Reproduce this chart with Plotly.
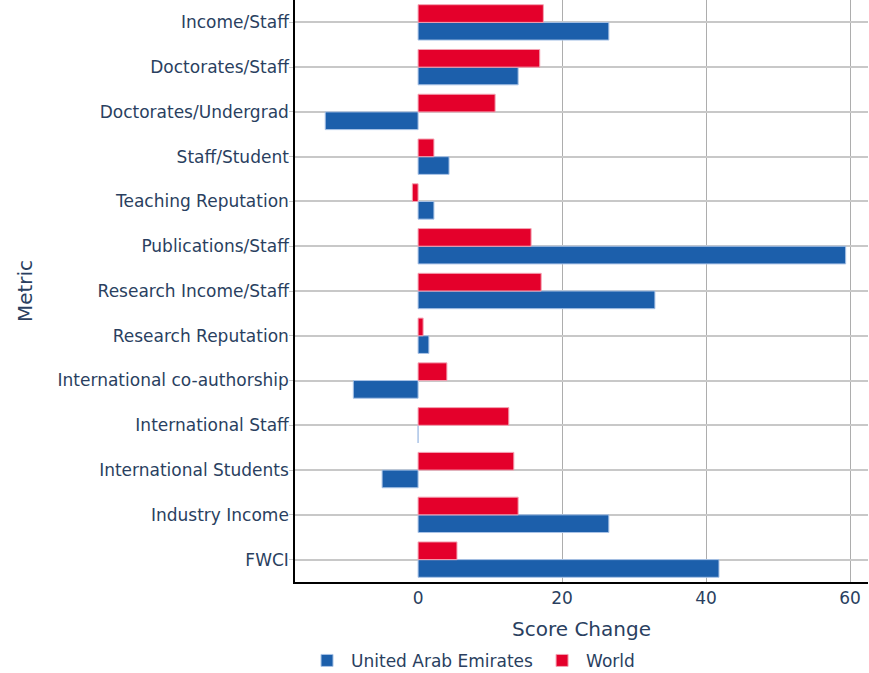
import plotly.graph_objects as go

# categories listed bottom to top (plotly draws first category at bottom)
metrics = [
    "FWCI",
    "Industry Income",
    "International Students",
    "International Staff",
    "International co-authorship",
    "Research Reputation",
    "Research Income/Staff",
    "Publications/Staff",
    "Teaching Reputation",
    "Staff/Student",
    "Doctorates/Undergrad",
    "Doctorates/Staff",
    "Income/Staff",
]
uae_change = [41.8, 26.5, -5.0, 0.0, -9.0, 1.5, 32.9, 59.4, 2.2, 4.3, -12.9, 13.9, 26.5]
world_change = [5.4, 13.9, 13.3, 12.6, 4.0, 0.7, 17.1, 15.7, -0.8, 2.2, 10.7, 16.9, 17.4]

fig = go.Figure()
fig.add_trace(go.Bar(
    y=metrics, x=uae_change, orientation="h", name="United Arab Emirates",
    marker=dict(color="#1c5fab", line=dict(color="#a9c3e6", width=1)),
))
fig.add_trace(go.Bar(
    y=metrics, x=world_change, orientation="h", name="World",
    marker=dict(color="#e4002b", line=dict(color="#f3a3b3", width=1)),
))

fig.update_layout(
    width=869, height=673,
    template="plotly_white",
    barmode="group",
    bargap=0.21,
    bargroupgap=0,
    paper_bgcolor="white",
    plot_bgcolor="white",
    font=dict(family="DejaVu Sans", size=17, color="#2a3f5f"),
    margin=dict(l=295, r=1, t=0, b=91),
    legend=dict(orientation="h", x=0.014, xanchor="left",
                yref="container", y=0.018, yanchor="middle",
                itemwidth=38, font=dict(size=17)),
)
fig.update_xaxes(
    title=dict(text="Score Change", font=dict(size=20)),
    automargin=False,
    range=[-17.1, 62.5],
    tickvals=[0, 20, 40, 60],
    showgrid=True, gridcolor="#adadad", gridwidth=1,
    zeroline=True, zerolinecolor="white", zerolinewidth=1,
    showline=True, linecolor="black", linewidth=1.5,
    ticks="", ticklen=0,
)
fig.update_yaxes(
    title=dict(text="Metric", font=dict(size=20), standoff=20),
    automargin=False,
    showgrid=True, gridcolor="#c8c8c8", gridwidth=1.5,
    showline=True, linecolor="black", linewidth=1.5,
    ticks="outside", tickcolor="#c8c8c8", ticklen=4,
    ticklabelstandoff=-3,
)

# drop the default page margin so the figure sits at the window's corner
fig.write_html("out.html", config={"displayModeBar": False},
               post_script="document.body.style.margin='0';")
